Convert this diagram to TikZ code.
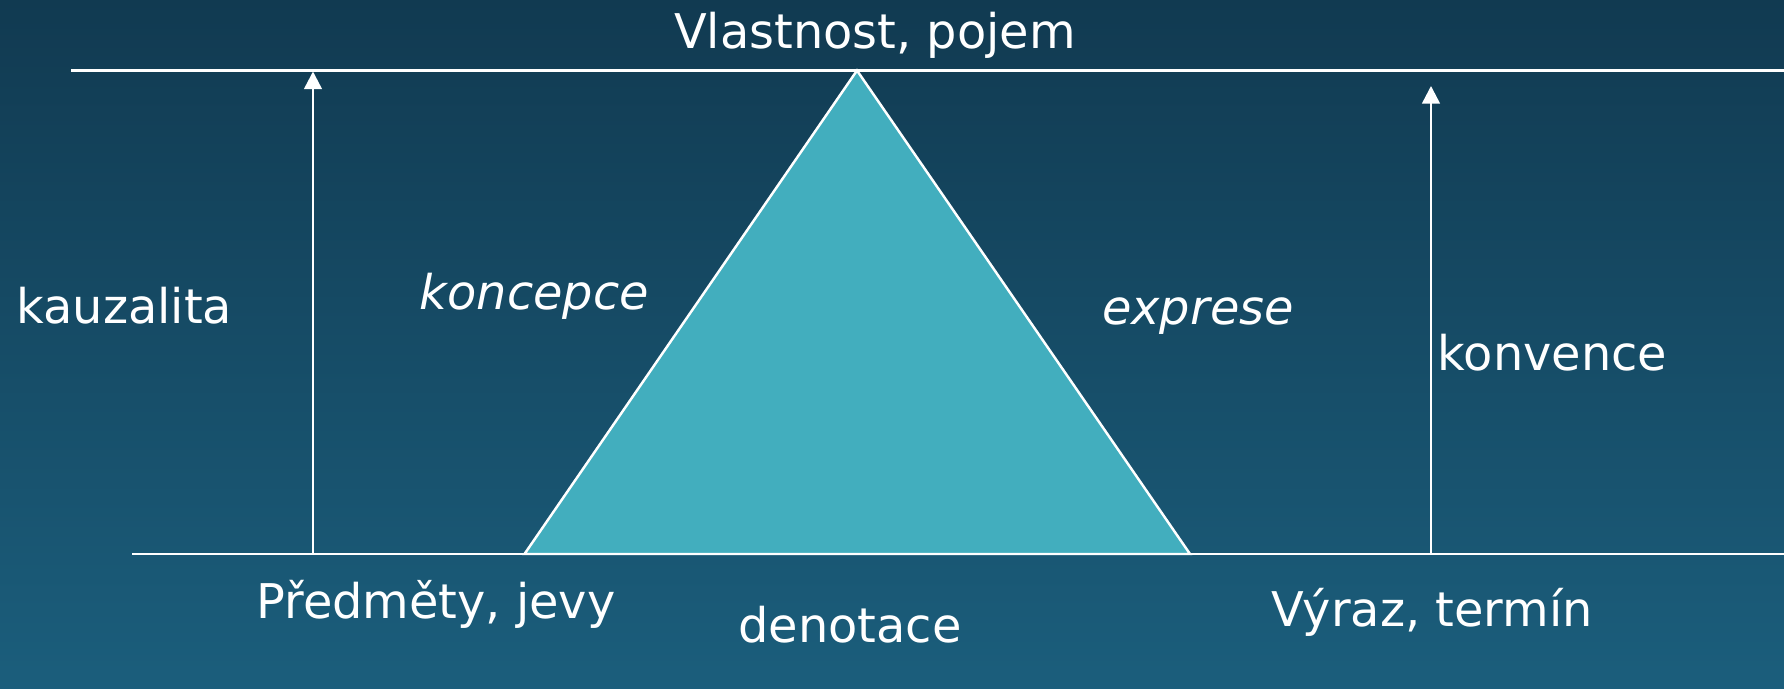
\documentclass[tikz,border=0pt]{standalone}
\usepackage{fontspec}
\setmainfont{DejaVu Sans}
\usetikzlibrary{calc,arrows.meta}
\definecolor{bgtop}{HTML}{113A51}
\definecolor{bgbottom}{HTML}{1B5E7C}
\definecolor{trifill}{HTML}{42AEBE}
\tikzset{
  lbl/.style={text=white,font=\fontsize{13.6}{16}\selectfont,inner sep=0pt,anchor=base},
  rule/.style={draw=white,line width=0.7pt},
  up/.style={rule,-{Triangle[width=5pt,length=5pt]}}
}

\begin{document}
\begin{tikzpicture}[x=0.01cm,y=-0.01cm]
\useasboundingbox (0,0) rectangle (1784,689);
\shade[top color=bgtop,bottom color=bgbottom] (0,0) rectangle (1784,689);
% the two levels
\coordinate (tl) at (71,70.5);
\coordinate (tr) at (1784,70.5);
\coordinate (bl) at (132,554);
\coordinate (br) at (1784,554);
\draw[rule] (tl) -- (tr);
\draw[rule] (bl) -- (br);
% triangle
\coordinate (apex) at (857,70.5);
\coordinate (baseL) at (524.5,554);
\coordinate (baseR) at (1190,554);
\draw[rule,fill=trifill] (baseL) -- (apex) -- (baseR) -- cycle;
% arrows
\coordinate (kfoot) at (313,554);
\coordinate (khead) at (313,71.5);
\coordinate (cfoot) at (1431,554);
\coordinate (chead) at (1431,86);
\draw[up] (kfoot) -- (khead);
\draw[up] (cfoot) -- (chead);
% labels
\node[lbl] (pojem) at (875,49) {Vlastnost, pojem};
\node[lbl,anchor=base west] (kauz) at (16,324) {kauzalita};
\node[lbl] (konc) at (534.5,309.5) {\itshape koncepce};
\node[lbl] (expr) at (1198,325) {\itshape exprese};
\node[lbl,anchor=base west] (konv) at (1437,371) {konvence};
\node[lbl] (predm) at (436,619) {Předměty, jevy};
\node[lbl] (denot) at (850,643) {denotace};
\node[lbl] (vyraz) at (1432,627) {Výraz, termín};
\end{tikzpicture}
\end{document}
